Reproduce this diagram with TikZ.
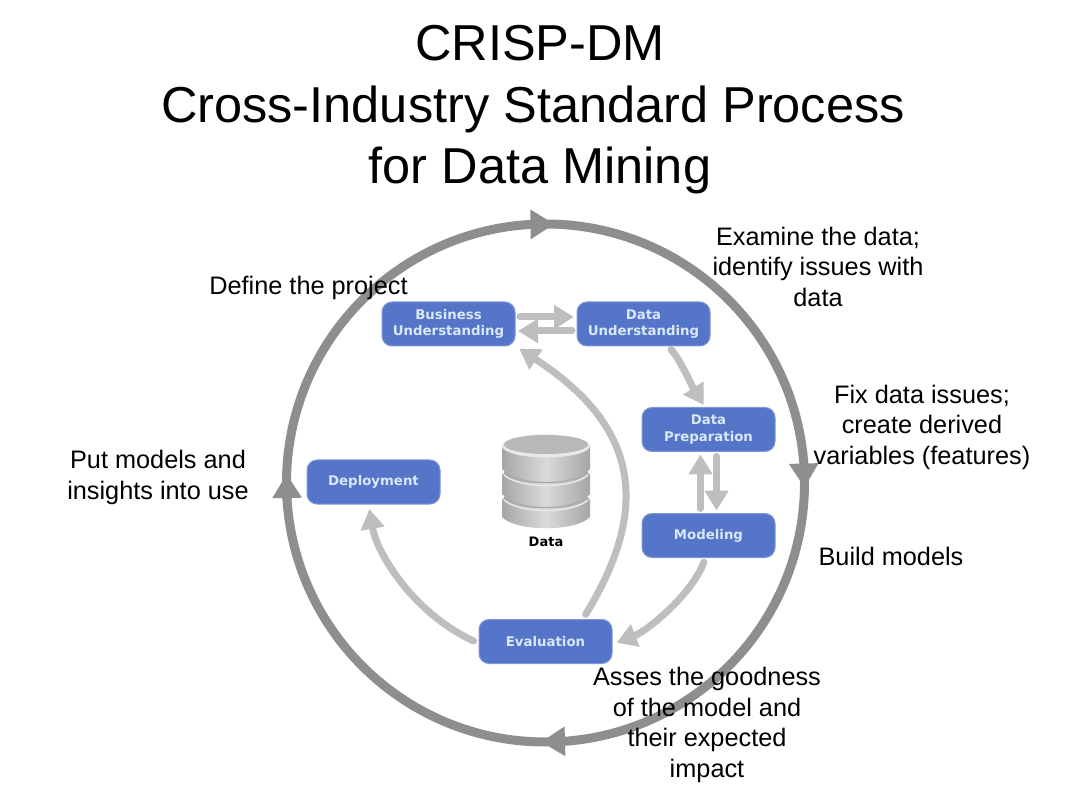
\documentclass[tikz,border=0pt]{standalone}
\usepackage{fontspec}
\setmainfont{Liberation Sans}
\newfontfamily\boxfont{DejaVu Sans}
\usetikzlibrary{arrows.meta,calc}
\definecolor{boxblue}{HTML}{5575C8}
\definecolor{boxedge}{HTML}{7F98D4}
\definecolor{boxtext}{HTML}{D8E8F8}
\definecolor{flowgray}{HTML}{BEBEBE}
\definecolor{ringgray}{HTML}{8E8E8E}
\definecolor{TierA}{HTML}{A6A6A6}
\definecolor{TierB}{HTML}{DADADA}
\definecolor{TierL}{HTML}{E8E8E8}
\definecolor{TierD}{HTML}{A8A8A8}
\tikzset{
  stage/.style={draw=boxedge,line width=1pt,fill=boxblue,rounded corners=10pt,minimum width=133pt,minimum height=44pt,
    inner sep=0pt,outer sep=0pt,align=center,text=boxtext,font=\boxfont\bfseries\fontsize{13.3}{16.5}\selectfont},
  flow/.style={draw=flowgray,line width=7pt,-{Triangle[length=20pt,width=23pt]},line cap=round},
  ringline/.style={draw=ringgray,line width=9pt,circle,minimum size=518pt,inner sep=0pt,outer sep=0pt},
  ringtip/.style={draw=ringgray,line width=9pt,-{Triangle[length=24pt,width=28pt]}},
  note/.style={align=center,font=\fontsize{25.3}{30.5}\selectfont,text=black,inner sep=0pt},
  heading/.style={align=center,font=\fontsize{50.5}{61.5}\selectfont,text=black,inner sep=0pt},
  tier/.style={draw=none,left color=TierA,right color=TierA,middle color=TierB},
  groove/.style={draw=TierD,line width=1.2pt},
  tierlip/.style={draw=TierL,line width=1.5pt},
}
\newcommand{\dbgroove}[1]{%
  \draw[groove] (504,#1) .. controls (520,#1+14) and (572,#1+14) .. (588,#1);
  \draw[tierlip] (504,#1+3) .. controls (520,#1+17) and (572,#1+17) .. (588,#1+3);
}
\begin{document}
\begin{tikzpicture}[x=1pt,y=-1pt]
\useasboundingbox[fill=white] (0,0) rectangle (1080,810);

% outer ring
\node[ringline] (ring) at (545.5,483) {};
\draw[ringtip] (ring.93.6) -- (ring.88.3);
\draw[ringtip] (ring.4.6) -- (ring.-1.5);
\draw[ringtip] (ring.274.8) -- (ring.269.6);
\draw[ringtip] (ring.184) -- (ring.178.7);

% stages
\node[stage] (bu) at (448.5,324) {Business\\Understanding};
\node[stage] (du) at (643.5,324) {Data\\Understanding};
\node[stage] (dp) at (708.5,429.5) {Data\\Preparation};
\node[stage] (mo) at (708.5,535.5) {Modeling};
\node[stage] (ev) at (545.5,641.5) {Evaluation};
\node[stage] (de) at (373.5,482) {Deployment};

% flows
\draw[flow,shorten <=5pt,shorten >=3pt] ([yshift=7pt]bu.east) -- ([yshift=7pt]du.west);
\draw[flow,shorten <=5pt,shorten >=3pt] ([yshift=-7pt]du.west) -- ([yshift=-7pt]bu.east);
\draw[flow,shorten <=5pt,shorten >=3pt] ([xshift=24pt]du.south) .. controls +(12,12) and +(-14,-22) .. ([xshift=-3pt]dp.north);
\draw[flow,shorten <=5pt,shorten >=3pt] ([xshift=8pt]dp.south) -- ([xshift=8pt]mo.north);
\draw[flow,shorten <=5pt,shorten >=3pt] ([xshift=-8pt]mo.north) -- ([xshift=-8pt]dp.south);
\draw[flow,shorten <=5pt,shorten >=5pt] ([xshift=-3pt]mo.south) .. controls +(-13,36) and +(36,-14) .. ([yshift=-3pt]ev.east);
\draw[flow,shorten <=6pt,shorten >=5pt] ([xshift=37pt]ev.north) .. controls +(70,-114) and +(122,79) .. (bu.south east);
\draw[flow,shorten <=6pt,shorten >=5pt] ([yshift=-2pt]ev.west) .. controls +(-65,-30) and +(8.5,50) .. ([xshift=-5pt]de.south);

% database
\path[tier] (502,446) -- (590,446) -- (590,469) -- (587,472) -- (590,475) -- (590,494) -- (587,497) -- (590,500) -- (590,517)
  .. controls (576,532) and (516,532) .. (502,517) -- (502,500) -- (505,497) -- (502,494) -- (502,475) -- (505,472) -- (502,469) -- cycle;
\dbgroove{472}
\dbgroove{497}
\path[fill=TierL] (546,446) ellipse [x radius=44pt,y radius=11.5pt];
\path[fill=TierA!80!white] (546,444.5) ellipse [x radius=42pt,y radius=9.5pt];
\node[font=\boxfont\bfseries\fontsize{13}{16}\selectfont,inner sep=0pt] (data) at (546,542) {Data};

% texts
\node[heading] (title) at (540,110) {CRISP-DM\\\hspace*{-14pt}Cross-Industry Standard Process\\for Data Mining};
\node[note] (n1) at (308.5,288) {Define the project};
\node[note] (n2) at (818,266.5) {Examine the data;\\identify issues with\\data};
\node[note] (n3) at (922,427) {Fix data issues;\\create derived\\variables (features)};
\node[note] (n4) at (891,556) {Build models};
\node[note] (n5) at (707,725) {Asses the goodness\\of the model and\\their expected\\impact};
\node[note] (n6) at (158,477.5) {Put models and\\insights into use};
\end{tikzpicture}
\end{document}
